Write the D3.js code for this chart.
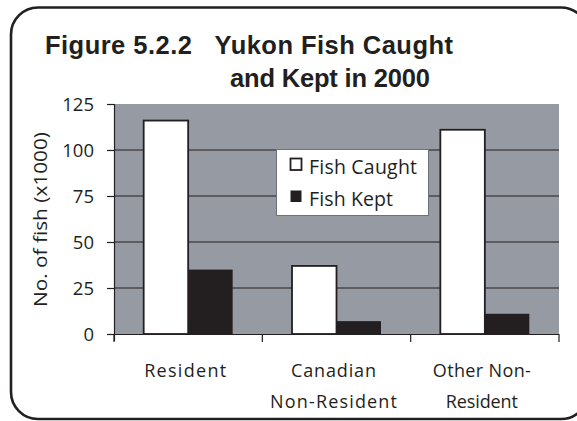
<!DOCTYPE html>
<html>
<head>
<meta charset="utf-8">
<script src="https://cdn.jsdelivr.net/npm/d3@7/dist/d3.min.js"></script>
<style>
  html, body { margin: 0; padding: 0; background: #fff; }
  svg { display: block; }
</style>
</head>
<body>
<script>
// Yukon sport fishing, 2000: fish caught vs. fish kept (thousands)
const categories = [["Resident"], ["Canadian", "Non-Resident"], ["Other Non-", "Resident"]];
const seriesNames = ["Fish Caught", "Fish Kept"];
const fishCaught = [116, 37, 111];
const fishKept = [35, 7, 11];
const yTicks = [0, 25, 50, 75, 100, 125];

const W = 577, H = 421;
const plot = { left: 114, right: 559, top: 104, bottom: 334 };

const svg = d3.select("body").append("svg").attr("width", W).attr("height", H);

// Rounded frame
svg.append("rect")
  .attr("x", 11).attr("y", 7.5).attr("width", 577).attr("height", 411.5)
  .attr("rx", 27).attr("ry", 27)
  .attr("fill", "none").attr("stroke", "#231f20").attr("stroke-width", 2.6);

// Title
const title = svg.append("g")
  .attr("font-family", "Liberation Sans, Arial, sans-serif")
  .attr("font-weight", "bold").attr("font-size", 25.5).attr("fill", "#231f20");
title.append("text").attr("x", 45).attr("y", 54)
  .attr("xml:space", "preserve")
  .attr("textLength", 408).attr("lengthAdjust", "spacing")
  .text("Figure 5.2.2   Yukon Fish Caught");
title.append("text").attr("x", 230).attr("y", 87)
  .attr("textLength", 200).attr("lengthAdjust", "spacing")
  .text("and Kept in 2000");

const x = d3.scaleBand().domain(d3.range(categories.length))
  .range([plot.left, plot.right]).paddingInner(0).paddingOuter(0);
const xs = d3.scaleBand().domain(seriesNames)
  .range([0, x.bandwidth()]).paddingInner(0).paddingOuter(0.667);
const y = d3.scaleLinear().domain([0, 125]).range([plot.bottom, plot.top]);

// Plot background
svg.append("rect")
  .attr("x", plot.left).attr("y", plot.top)
  .attr("width", plot.right - plot.left).attr("height", plot.bottom - plot.top)
  .attr("fill", "#969ba3");

// Gridlines
svg.append("g").selectAll("line")
  .data(yTicks.filter(d => d > 0 && d < 125))
  .join("line")
  .attr("x1", plot.left).attr("x2", plot.right)
  .attr("y1", d => y(d)).attr("y2", d => y(d))
  .attr("stroke", "#231f20").attr("stroke-width", 1);

// Bars
const groups = svg.append("g").selectAll("g")
  .data(categories.map((c, i) => i))
  .join("g")
  .attr("transform", i => `translate(${x(i)},0)`);

groups.append("rect")
  .attr("x", xs("Fish Caught")).attr("width", xs.bandwidth())
  .attr("y", i => y(fishCaught[i])).attr("height", i => y(0) - y(fishCaught[i]))
  .attr("fill", "#ffffff").attr("stroke", "#231f20").attr("stroke-width", 1.8);

groups.append("rect")
  .attr("x", xs("Fish Kept")).attr("width", xs.bandwidth())
  .attr("y", i => y(fishKept[i])).attr("height", i => y(0) - y(fishKept[i]))
  .attr("fill", "#231f20");

const axisFont = "Myriad Pro, Open Sans, sans-serif";

// Y axis
const yAxis = svg.append("g")
  .attr("transform", `translate(${plot.left},0)`)
  .call(d3.axisLeft(y).tickValues(yTicks).tickSizeOuter(0).tickSize(7).tickPadding(13));
yAxis.select(".domain").attr("d", `M0.5,${plot.top}V${plot.bottom + 7}`)
  .attr("stroke", "#231f20").attr("stroke-width", 1.2);
yAxis.selectAll(".tick line").attr("stroke", "#231f20").attr("stroke-width", 1.2);
yAxis.selectAll(".tick text")
  .attr("font-family", axisFont).attr("font-size", 18.5).attr("fill", "#231f20")
  .attr("dy", "0.34em");

// X axis
const xAxis = svg.append("g").attr("transform", `translate(0,${plot.bottom})`);
xAxis.append("line").attr("x1", plot.left).attr("x2", plot.right)
  .attr("y1", 0.5).attr("y2", 0.5)
  .attr("stroke", "#231f20").attr("stroke-width", 1.2);
xAxis.selectAll(".sep")
  .data(d3.range(categories.length + 1))
  .join("line")
  .attr("x1", i => i < categories.length ? x(i) : x(categories.length - 1) + x.bandwidth())
  .attr("x2", i => i < categories.length ? x(i) : x(categories.length - 1) + x.bandwidth())
  .attr("y1", 0).attr("y2", 8)
  .attr("stroke", "#231f20").attr("stroke-width", 1.2);

const labelWidths = [[82], [85, 127], [98, 72]];
categories.forEach((lines, i) => {
  lines.forEach((t, j) => {
    svg.append("text")
      .attr("x", x(i) + x.bandwidth() / 2 - 3)
      .attr("y", 377 + j * 31)
      .attr("text-anchor", "middle")
      .attr("font-family", axisFont).attr("font-size", 18).attr("fill", "#231f20")
      .attr("textLength", labelWidths[i][j]).attr("lengthAdjust", "spacing")
      .text(t);
  });
});

// Y axis title
svg.append("text")
  .attr("transform", `translate(47,219.5) rotate(-90)`)
  .attr("text-anchor", "middle")
  .attr("font-family", axisFont).attr("font-size", 19).attr("fill", "#231f20")
  .attr("textLength", 175).attr("lengthAdjust", "spacingAndGlyphs")
  .text("No. of fish (x1000)");

// Legend
const legend = svg.append("g");
legend.append("rect")
  .attr("x", 276.5).attr("y", 149.5).attr("width", 152).attr("height", 66)
  .attr("fill", "#ffffff").attr("stroke", "#6d7278").attr("stroke-width", 1);
const legendText = [108, 84];
seriesNames.forEach((name, i) => {
  const yy = 164 + i * 32;
  legend.append("rect")
    .attr("x", 290.5).attr("y", yy - 5.5).attr("width", 11).attr("height", 11.5)
    .attr("fill", i === 0 ? "#ffffff" : "#231f20")
    .attr("stroke", "#231f20").attr("stroke-width", i === 0 ? 1.8 : 0);
  legend.append("text")
    .attr("x", 309).attr("y", yy + 10)
    .attr("font-family", axisFont).attr("font-size", 19.5).attr("fill", "#231f20")
    .attr("textLength", legendText[i]).attr("lengthAdjust", "spacing")
    .text(name);
});
</script>
</body>
</html>
